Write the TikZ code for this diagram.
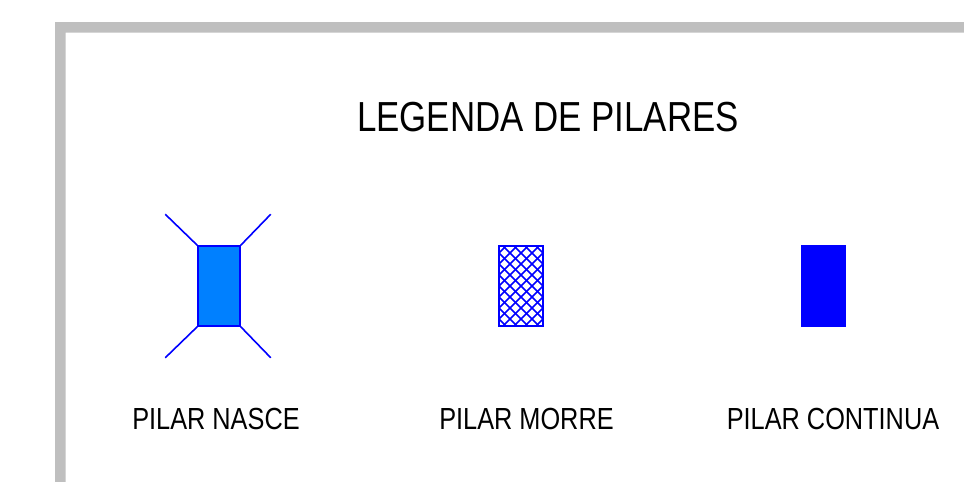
\documentclass[tikz,border=0pt]{standalone}
\usepackage{fontspec}
\newfontfamily\legfont[FakeStretch=0.83]{Liberation Sans}
\usetikzlibrary{calc}
\definecolor{pilarazul}{RGB}{0,128,255}
\definecolor{moldura}{RGB}{191,191,191}

\begin{document}
\begin{tikzpicture}[x=1pt,y=-1pt,
	pilar/.style={draw=blue,line width=1.5pt,minimum height=80pt,inner sep=0pt},
	hachura/.style={blue,line width=1.5pt},
	rotulo/.style={font=\legfont\fontsize{30.5}{32}\selectfont,inner sep=0pt}]
	\useasboundingbox (0,0) rectangle (964,482);
	% moldura cinza
	\fill[moldura] (55,22) -- (964,22) -- (964,32.5) -- (65.5,32.5) -- (65.5,482) -- (55,482) -- cycle;
	\node[font=\legfont\fontsize{42}{44}\selectfont,inner sep=0pt] (titulo) at (548,117) {LEGENDA DE PILARES};
	% pilar que nasce
	\node[pilar,fill=pilarazul,minimum width=42pt] (nasce) at (219,286) {};
	\draw[blue,line width=1.6pt] (nasce.north west) -- +(-32,-31);
	\draw[blue,line width=1.6pt] (nasce.north east) -- +(30,-31);
	\draw[blue,line width=1.6pt] (nasce.south west) -- +(-32,31);
	\draw[blue,line width=1.6pt] (nasce.south east) -- +(30,31);
	% pilar que morre
	\node[pilar,minimum width=44pt,path picture={
		\begin{scope}[shift={(path picture bounding box.center)}]
			\foreach \k in {-12,...,12} {
				\draw[hachura] (\k*11-60,-60) -- +(120,120);
				\draw[hachura] (\k*11+60,-60) -- +(-120,120);
			}
		\end{scope}}] (morre) at (521,286) {};
	% pilar que continua
	\node[pilar,fill=blue,minimum width=43pt] (continua) at (823.5,286) {};
	\node[rotulo] (lnasce) at (216,419) {PILAR NASCE};
	\node[rotulo] (lmorre) at (526.5,419) {PILAR MORRE};
	\node[rotulo] (lcontinua) at (833,419) {PILAR CONTINUA};
\end{tikzpicture}
\end{document}
